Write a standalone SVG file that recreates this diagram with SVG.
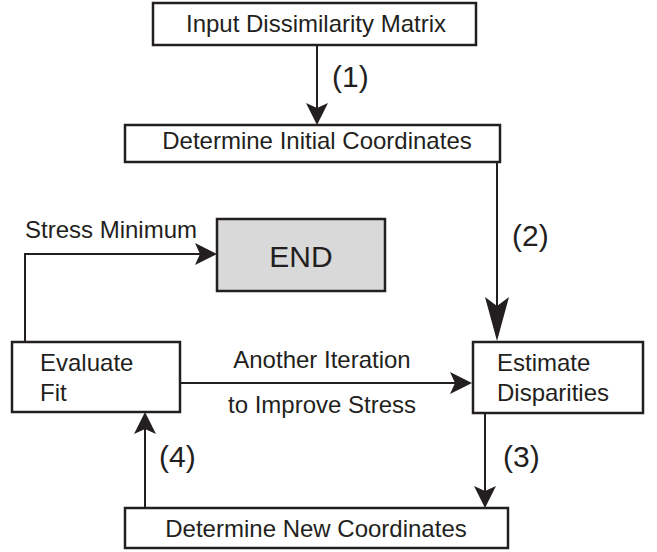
<svg xmlns="http://www.w3.org/2000/svg" width="657" height="552" viewBox="0 0 657 552">
<style>
.box{fill:#fff;stroke:#231f20;stroke-width:2.5}
.end{fill:#d9d9da;stroke:#231f20;stroke-width:2.5}
.t{font-family:"Liberation Sans",Arial,sans-serif;font-size:24px;fill:#231f20}
.lbl{font-family:"Liberation Sans",Arial,sans-serif;font-size:30px;fill:#231f20}
.c{text-anchor:middle}
.conn{fill:none;stroke:#231f20;stroke-width:2}
</style>
<defs>
<marker id="ah" markerUnits="userSpaceOnUse" viewBox="0 0 22 22" refX="16" refY="11" markerWidth="22" markerHeight="22" orient="auto">
<path d="M0,0 L22,11 L0,22 L5,11 Z" fill="#231f20"/>
</marker>
<marker id="ahl" markerUnits="userSpaceOnUse" viewBox="0 0 44 24" refX="38" refY="12" markerWidth="44" markerHeight="24" orient="auto">
<path d="M0,0 L44,12 L0,24 L9,12 Z" fill="#231f20"/>
</marker>
</defs>
<g id="connectors">
<line class="conn" x1="317" y1="45" x2="317" y2="119" marker-end="url(#ah)"/>
<line class="conn" x1="497" y1="162" x2="497" y2="335" marker-end="url(#ahl)"/>
<polyline class="conn" points="25,342 25,254 211,254" marker-end="url(#ah)"/>
<line class="conn" x1="180" y1="383" x2="466" y2="383" marker-end="url(#ah)"/>
<line class="conn" x1="485" y1="413" x2="485" y2="502" marker-end="url(#ah)"/>
<line class="conn" x1="145" y1="508" x2="145" y2="418" marker-end="url(#ah)"/>
<text class="lbl" x="332" y="87">(1)</text>
<text class="lbl" x="512" y="246">(2)</text>
<text class="lbl" x="503" y="467">(3)</text>
<text class="lbl" x="159" y="467">(4)</text>
<text class="t" x="25" y="238">Stress Minimum</text>
<text class="t c" x="322" y="368">Another Iteration</text>
<text class="t c" x="322" y="413">to Improve Stress</text>
</g>
<g id="input">
<rect class="box" x="153" y="3" width="323" height="42"/>
<text class="t c" x="316" y="32">Input Dissimilarity Matrix</text>
</g>
<g id="initial">
<rect class="box" x="125" y="125" width="375" height="37"/>
<text class="t c" x="317" y="149">Determine Initial Coordinates</text>
</g>
<g id="end">
<rect class="end" x="217" y="219" width="168" height="72"/>
<text class="lbl c" x="301" y="267">END</text>
</g>
<g id="evaluate">
<rect class="box" x="12" y="342" width="168" height="70"/>
<text class="t" x="40" y="371">Evaluate</text>
<text class="t" x="40" y="401">Fit</text>
</g>
<g id="estimate">
<rect class="box" x="473" y="342" width="170" height="71"/>
<text class="t" x="497" y="371">Estimate</text>
<text class="t" x="497" y="401">Disparities</text>
</g>
<g id="newcoords">
<rect class="box" x="125" y="508" width="383" height="40"/>
<text class="t c" x="316" y="537">Determine New Coordinates</text>
</g>
</svg>
